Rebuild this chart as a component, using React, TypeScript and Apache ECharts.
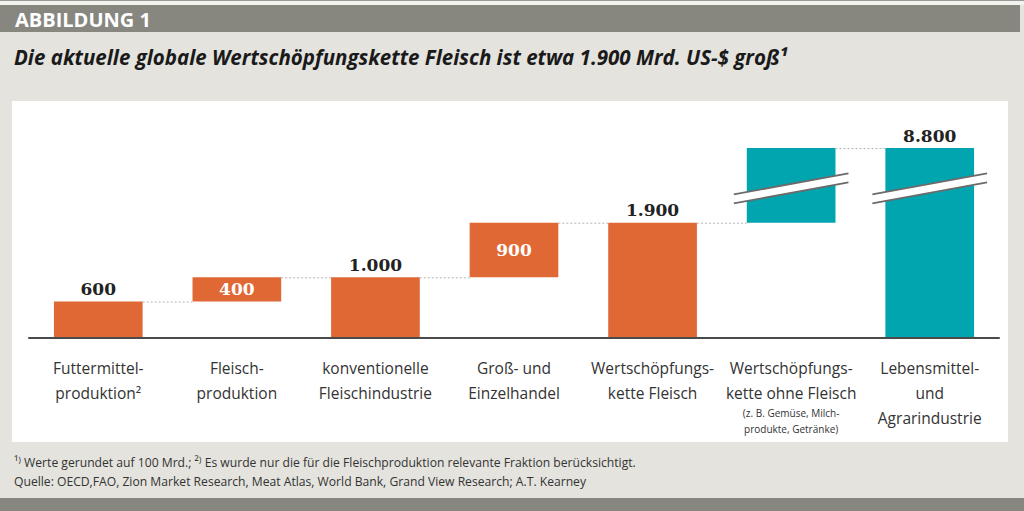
import React, { useEffect, useRef } from "react";
import * as echarts from "echarts";

// ---- data ----
const categories = [
  "Futtermittel-\nproduktion²",
  "Fleisch-\nproduktion",
  "konventionelle\nFleischindustrie",
  "Groß- und\nEinzelhandel",
  "Wertschöpfungs-\nkette Fleisch",
  "Wertschöpfungs-\nkette ohne Fleisch\n{s|(z. B. Gemüse, Milch-}\n{s|produkte, Getränke)}",
  "Lebensmittel-\nund\nAgrarindustrie",
];
// invisible base of each waterfall step
const baseValues = [0, 600, 0, 1000, 0, 1900, 0];
// visible part of each bar (Mrd. US-$)
const stepValues = [600, 400, 1000, 900, 1900, 6900, 8800];
// how each bar is labelled: total (label above), step (label inside), none
const barKinds = ["total", "step", "total", "step", "total", "none", "total"];
// which group each bar belongs to (meat chain vs. rest)
const barGroups = ["meat", "meat", "meat", "meat", "meat", "other", "other"];
// dotted connector levels between bar i and bar i+1
const connectorLevels = [600, 1000, 1000, 1900, 1900, 8800];
// axis break (Mrd. US-$)
const breakStart = 2450;
const breakEnd = 8150;
const brokenBars = [5, 6];

const titleText = "Die aktuelle globale Wertschöpfungskette Fleisch ist etwa 1.900 Mrd. US-$ groß¹";
const headerText = "ABBILDUNG 1";
const footnote1 = "¹⁾ Werte gerundet auf 100 Mrd.; ²⁾ Es wurde nur die für die Fleischproduktion relevante Fraktion berücksichtigt.";
const footnote2 = "Quelle: OECD,FAO, Zion Market Research, Meat Atlas, World Bank, Grand View Research; A.T. Kearney";

const ORANGE = "#e06834";
const TEAL = "#00a5af";
const BAR_RATIO = 0.64;

function fmt(v: number): string {
  return String(v).replace(/\B(?=(\d{3})+(?!\d))/g, ".");
}

export default function App() {
  const ref = useRef<HTMLDivElement>(null);
  useEffect(() => {
    if (!ref.current) return;
    const chart = echarts.init(ref.current, undefined, { renderer: "svg" });

    const valueFont = {
      fontFamily: '"DejaVu Serif", serif',
      fontWeight: "bold" as const,
      fontSize: 17,
    };

    const stepData = stepValues.map((v, i) => {
      const kind = barKinds[i];
      const color = barGroups[i] === "meat" ? ORANGE : TEAL;
      const label =
        kind === "none"
          ? { show: false }
          : kind === "step"
          ? { show: true, position: "inside", color: "#ffffff", ...valueFont, formatter: fmt(v) }
          : {
              show: true,
              position: "top",
              distance: 4,
              color: "#222222",
              ...valueFont,
              formatter: fmt(baseValues[i] + v),
            };
      return { value: v, itemStyle: { color }, label };
    });

    const footStyle = {
      fill: "#333333",
      fontFamily: '"Open Sans", sans-serif',
      fontSize: 13.5,
      verticalAlign: "middle",
    };

    const option: any = {
      animation: false,
      backgroundColor: "#e4e3de",
      grid: {
        left: 29,
        right: 25,
        top: 148,
        bottom: 173,
        containLabel: false,
        outerBoundsMode: "none",
      },
      xAxis: {
        type: "category",
        data: categories,
        axisLine: { show: true, lineStyle: { color: "#4a4a4a", width: 2 } },
        axisTick: { show: false },
        axisLabel: {
          interval: 0,
          margin: 17,
          fontFamily: '"Open Sans", sans-serif',
          fontSize: 15.5,
          lineHeight: 25,
          color: "#333333",
          verticalAlign: "top",
          rich: {
            s: { fontSize: 10, lineHeight: 16, fontFamily: '"Open Sans", sans-serif', color: "#333333" },
          },
        },
        z: 5,
      },
      yAxis: {
        type: "value",
        min: 0,
        max: 8800,
        show: false,
        splitLine: { show: false },
        breaks: [{ start: breakStart, end: breakEnd, gap: "1%" }],
        breakArea: { show: false },
      },
      graphic: [
        { type: "rect", silent: true, z: -10, shape: { x: 0, y: 0, width: 1024, height: 1 }, style: { fill: "#9a9a94" } },
        { type: "rect", silent: true, z: -10, shape: { x: 0, y: 1, width: 1024, height: 4 }, style: { fill: "#f2f2ef" } },
        { type: "rect", silent: true, z: -10, shape: { x: 0, y: 5, width: 1020, height: 27 }, style: { fill: "#878780" } },
        { type: "rect", silent: true, z: -10, shape: { x: 12, y: 101, width: 996, height: 341 }, style: { fill: "#ffffff" } },
        { type: "rect", silent: true, z: -10, shape: { x: 0, y: 498, width: 1024, height: 13 }, style: { fill: "#878780" } },
        {
          type: "text",
          silent: true,
          x: 15,
          y: 19,
          style: {
            text: headerText,
            fill: "#ffffff",
            fontFamily: '"Open Sans", sans-serif',
            fontWeight: "bold",
            fontSize: 20,
            verticalAlign: "middle",
          },
        },
        {
          type: "text",
          silent: true,
          x: 14,
          y: 57,
          style: {
            text: titleText,
            fill: "#1a1a1a",
            fontFamily: '"Open Sans", sans-serif',
            fontWeight: "bold",
            fontStyle: "italic",
            fontSize: 20.5,
            verticalAlign: "middle",
          },
        },
        {
          type: "text",
          silent: true,
          x: 14,
          y: 462,
          scaleX: 0.9,
          style: { text: footnote1, ...footStyle },
        },
        {
          type: "text",
          silent: true,
          x: 14,
          y: 481,
          scaleX: 0.9,
          style: { text: footnote2, ...footStyle },
        },
      ],
      series: [
        {
          type: "bar",
          stack: "w",
          data: baseValues,
          barCategoryGap: "36%",
          itemStyle: { color: "rgba(0,0,0,0)" },
          silent: true,
          label: { show: false },
        },
        {
          type: "bar",
          stack: "w",
          data: stepData,
          barCategoryGap: "36%",
        },
        {
          type: "custom",
          z: 3,
          clip: false,
          silent: true,
          data: connectorLevels.map((v, i) => [i, v]),
          renderItem: (params: any, api: any) => {
            const i = api.value(0);
            const v = api.value(1);
            const p1 = api.coord([i, v]);
            const p2 = api.coord([i + 1, v]);
            const bw = api.size([1, 0])[0] * BAR_RATIO;
            return {
              type: "line",
              shape: { x1: p1[0] + bw / 2, y1: p1[1] + 0.5, x2: p2[0] - bw / 2, y2: p2[1] + 0.5 },
              style: { stroke: "#b5b5b5", lineWidth: 1, lineDash: [2, 2] },
            };
          },
        },
        {
          type: "custom",
          z: 4,
          clip: false,
          silent: true,
          data: brokenBars.map((i) => [i, (breakStart + breakEnd) / 2]),
          renderItem: (params: any, api: any) => {
            const c = api.coord([api.value(0), api.value(1)]);
            const bw = api.size([1, 0])[0] * BAR_RATIO;
            const hw = bw / 2 + 13;
            const k = 21 / 115;
            const cx = c[0];
            const cy = c[1];
            const d = 4.5;
            const x1 = cx - hw;
            const x2 = cx + hw;
            const yl = (off: number) => cy + off + hw * k;
            const yr = (off: number) => cy + off - hw * k;
            return {
              type: "group",
              children: [
                {
                  type: "polygon",
                  shape: { points: [[x1, yl(-d)], [x2, yr(-d)], [x2, yr(d)], [x1, yl(d)]] },
                  style: { fill: "#ffffff" },
                },
                {
                  type: "line",
                  shape: { x1, y1: yl(-d), x2, y2: yr(-d) },
                  style: { stroke: "#6b6b6b", lineWidth: 1.8 },
                },
                {
                  type: "line",
                  shape: { x1, y1: yl(d), x2, y2: yr(d) },
                  style: { stroke: "#6b6b6b", lineWidth: 1.8 },
                },
              ],
            };
          },
        },
      ],
    };
    chart.setOption(option);
    return () => chart.dispose();
  }, []);
  return (
    <div
      ref={ref}
      style={{ position: "fixed", left: 0, top: 0, width: 1024, height: 511 }}
    />
  );
}
